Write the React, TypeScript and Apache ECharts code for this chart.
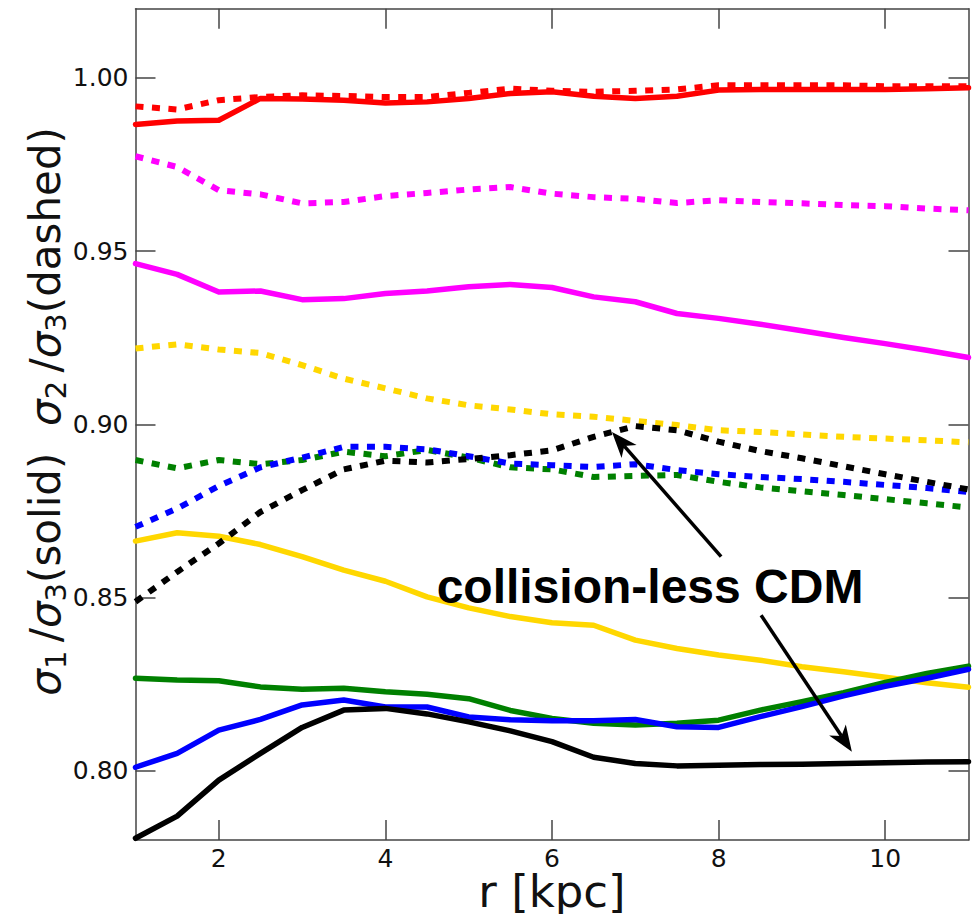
import React, { useEffect, useRef } from 'react';
import * as echarts from 'echarts';

// Radius samples (kpc)
const radii = [1, 1.5, 2, 2.5, 3, 3.5, 4, 4.5, 5, 5.5, 6, 6.5, 7, 7.5, 8, 8.5, 9, 9.5, 10, 10.5, 11];

// Axis ratios, solid = sigma1/sigma3, dashed = sigma2/sigma3
const redSolid = [0.9866, 0.9876, 0.9878, 0.9941, 0.9939, 0.9936, 0.9928, 0.9931, 0.9941, 0.9955, 0.996, 0.9947, 0.9941, 0.9947, 0.9965, 0.9967, 0.9967, 0.9967, 0.9967, 0.9969, 0.9972];
const redDashed = [0.9918, 0.9909, 0.9936, 0.9945, 0.995, 0.9948, 0.9945, 0.9945, 0.9957, 0.9969, 0.9963, 0.996, 0.9963, 0.9967, 0.9979, 0.9979, 0.9979, 0.9979, 0.9976, 0.9976, 0.9976];
const magentaDashed = [0.9774, 0.9743, 0.9676, 0.9664, 0.9638, 0.9642, 0.9659, 0.9668, 0.9678, 0.9685, 0.9666, 0.9656, 0.9651, 0.9639, 0.9647, 0.9642, 0.9638, 0.9633, 0.963, 0.9623, 0.9618];
const magentaSolid = [0.9464, 0.9433, 0.9382, 0.9385, 0.936, 0.9363, 0.9378, 0.9385, 0.9397, 0.9404, 0.9395, 0.9368, 0.9354, 0.932, 0.9306, 0.9289, 0.927, 0.9251, 0.9233, 0.9214, 0.9193];
const yellowDashed = [0.9219, 0.9231, 0.9216, 0.9206, 0.9171, 0.9132, 0.9104, 0.9075, 0.9055, 0.9043, 0.9029, 0.9022, 0.901, 0.8998, 0.8983, 0.8978, 0.8971, 0.8964, 0.8959, 0.8954, 0.8948];
const yellowSolid = [0.8663, 0.8687, 0.8677, 0.8653, 0.8618, 0.8579, 0.8547, 0.8502, 0.847, 0.8445, 0.8427, 0.842, 0.8377, 0.8353, 0.8334, 0.8319, 0.83, 0.8286, 0.827, 0.8254, 0.8241];
const greenDashed = [0.8897, 0.8873, 0.8897, 0.8885, 0.8897, 0.8921, 0.8908, 0.8926, 0.8904, 0.8876, 0.887, 0.8848, 0.8851, 0.8854, 0.8834, 0.8818, 0.8807, 0.8796, 0.8784, 0.8772, 0.876];
const greenSolid = [0.8267, 0.8262, 0.826, 0.8242, 0.8235, 0.8238, 0.8228, 0.8221, 0.8208, 0.8174, 0.8151, 0.8137, 0.8132, 0.8137, 0.8146, 0.8175, 0.8199, 0.8225, 0.8255, 0.8281, 0.8302];
const blueDashed = [0.8704, 0.8757, 0.8822, 0.8876, 0.8904, 0.8935, 0.8935, 0.8928, 0.8908, 0.8887, 0.8882, 0.8877, 0.8885, 0.8868, 0.8856, 0.8848, 0.8842, 0.8834, 0.8825, 0.8816, 0.8805];
const blueSolid = [0.801, 0.805, 0.8117, 0.8148, 0.819, 0.8204, 0.8184, 0.8184, 0.8155, 0.8147, 0.8144, 0.8144, 0.8148, 0.8127, 0.8125, 0.8156, 0.8185, 0.8216, 0.8244, 0.8267, 0.8293];
const blackDashed = [0.8488, 0.8574, 0.8656, 0.8747, 0.881, 0.887, 0.8895, 0.889, 0.89, 0.8911, 0.8925, 0.8964, 0.8995, 0.8983, 0.895, 0.8923, 0.8902, 0.8879, 0.8856, 0.8834, 0.8812];
const blackSolid = [0.7805, 0.7869, 0.7973, 0.805, 0.8125, 0.8175, 0.818, 0.8164, 0.8141, 0.8115, 0.8084, 0.8039, 0.8021, 0.8014, 0.8016, 0.8018, 0.8019, 0.8021, 0.8023, 0.8025, 0.8026];

const xTicks = [2, 4, 6, 8, 10];
const yTicks = [0.8, 0.85, 0.9, 0.95, 1.0];

// Annotation arrows: [tail, tip] in data coordinates
const arrowUp = [[8.03, 0.8618], [6.72, 0.8978]];
const arrowDown = [[8.51, 0.8449], [9.6, 0.8055]];

type Curve = { name: string; color: string; dashed: boolean; values: number[] };

const curves: Curve[] = [
  { name: 'red solid', color: '#ff0000', dashed: false, values: redSolid },
  { name: 'red dashed', color: '#ff0000', dashed: true, values: redDashed },
  { name: 'magenta dashed', color: '#ff00ff', dashed: true, values: magentaDashed },
  { name: 'magenta solid', color: '#ff00ff', dashed: false, values: magentaSolid },
  { name: 'yellow dashed', color: '#ffd700', dashed: true, values: yellowDashed },
  { name: 'yellow solid', color: '#ffd700', dashed: false, values: yellowSolid },
  { name: 'green dashed', color: '#008000', dashed: true, values: greenDashed },
  { name: 'green solid', color: '#008000', dashed: false, values: greenSolid },
  { name: 'blue dashed', color: '#0000ff', dashed: true, values: blueDashed },
  { name: 'blue solid', color: '#0000ff', dashed: false, values: blueSolid },
  { name: 'black dashed', color: '#000000', dashed: true, values: blackDashed },
  { name: 'black solid', color: '#000000', dashed: false, values: blackSolid },
];

const AXIS_COLOR = '#444';
const FONT = '"DejaVu Sans", Verdana, sans-serif';

const labelGraphic = {
  id: 'cdm-label',
  type: 'text',
  z: 100,
  x: 650,
  y: 586,
  silent: true,
  style: {
    text: 'collision-less CDM',
    fill: '#000',
    fontFamily: '"Liberation Sans", Arial, sans-serif',
    fontWeight: 'bold',
    fontSize: 48,
    align: 'center',
    verticalAlign: 'middle',
  },
};

// x-axis title, centred under the plot
const xTitleGraphic = {
  id: 'x-title',
  type: 'text',
  z: 100,
  x: 552,
  y: 891,
  silent: true,
  style: {
    text: 'r [kpc]',
    fill: '#111',
    fontFamily: FONT,
    fontSize: 45,
    lineHeight: 42,
    align: 'center',
    verticalAlign: 'middle',
  },
};

function buildOption(): echarts.EChartsOption {
  const tick = {
    show: true,
    inside: true,
    length: 20,
    lineStyle: { color: AXIS_COLOR, width: 1.5 },
  };
  const axisLine = { show: true, onZero: false, lineStyle: { color: AXIS_COLOR, width: 1.5 } };

  const lineSeries = curves.map((c, i) => ({
    name: c.name,
    type: 'line' as const,
    xAxisIndex: 0,
    yAxisIndex: 0,
    data: radii.map((r, k) => [r, c.values[k]]),
    showSymbol: false,
    symbol: 'none',
    silent: true,
    z: 2 + i * 0.01,
    lineStyle: {
      color: c.color,
      width: c.dashed ? 6 : 5.5,
      type: c.dashed ? [8, 8.5] : 'solid',
      cap: c.dashed ? 'butt' : 'round',
      join: 'round',
    },
  }));

  return {
    animation: false,
    backgroundColor: '#ffffff',
    grid: {
      left: 135.5,
      right: 5.5,
      top: 8.7,
      bottom: 74,
      containLabel: false,
      outerBoundsMode: 'none',
    },
    xAxis: [
      {
        type: 'value',
        min: 1,
        max: 11,
        position: 'bottom',
        axisLine,
        axisTick: { ...tick, customValues: xTicks },
        axisLabel: {
          customValues: xTicks,
          color: '#111',
          fontFamily: FONT,
          fontSize: 25,
          lineHeight: 24,
          margin: 6,
          formatter: (v: number) => String(v),
        },
        splitLine: { show: false },
      },
      {
        type: 'value',
        min: 1,
        max: 11,
        position: 'top',
        axisLine,
        axisTick: { ...tick, customValues: xTicks },
        axisLabel: { show: false },
        splitLine: { show: false },
      },
    ],
    yAxis: [
      {
        type: 'value',
        min: 0.78,
        max: 1.02,
        position: 'left',
        axisLine,
        axisTick: { ...tick, customValues: yTicks },
        axisLabel: {
          customValues: yTicks,
          color: '#111',
          fontFamily: FONT,
          fontSize: 25,
          margin: 7,
          formatter: (v: number) => v.toFixed(2),
        },
        splitLine: { show: false },
        name:
          '{g|σ}{sub|1}{n|\u2009/}{g|σ}{sub|3}{n|(solid)  }{g|σ}{sub|2}{n|\u2009/}{g|σ}{sub|3}{n|(dashed)}',
        nameLocation: 'middle',
        nameRotate: 90,
        nameGap: 65,
        nameMoveOverlap: false,
        nameTextStyle: {
          color: '#111',
          padding: [0, 0, 0, 26],
          rich: {
            g: { fontFamily: FONT, fontStyle: 'italic', fontSize: 42, lineHeight: 50, color: '#111' },
            n: { fontFamily: FONT, fontSize: 42, lineHeight: 50, color: '#111' },
            sub: { fontFamily: FONT, fontSize: 29, verticalAlign: 'bottom', lineHeight: 29, color: '#111' },
          },
        },
      },
      {
        type: 'value',
        min: 0.78,
        max: 1.02,
        position: 'right',
        axisLine,
        axisTick: { ...tick, customValues: yTicks },
        axisLabel: { show: false },
        splitLine: { show: false },
      },
    ],
    series: lineSeries,
    graphic: [labelGraphic, xTitleGraphic],
  } as echarts.EChartsOption;
}

// Arrow with a concave (stealth) head, built from data-space tail and tip
function arrowGraphics(chart: echarts.ECharts, id: string, tail: number[], tip: number[]) {
  const a = chart.convertToPixel({ gridIndex: 0 }, tail) as number[];
  const b = chart.convertToPixel({ gridIndex: 0 }, tip) as number[];
  const dx = b[0] - a[0];
  const dy = b[1] - a[1];
  const len = Math.hypot(dx, dy) || 1;
  const ux = dx / len;
  const uy = dy / len;
  const nx = -uy;
  const ny = ux;
  const headLen = 26;
  const halfW = 10;
  const notch = headLen * 0.72;
  const backX = b[0] - ux * headLen;
  const backY = b[1] - uy * headLen;
  const notchX = b[0] - ux * notch;
  const notchY = b[1] - uy * notch;
  return [
    {
      id: id + '-shaft',
      type: 'line',
      z: 90,
      silent: true,
      shape: { x1: a[0], y1: a[1], x2: notchX, y2: notchY },
      style: { stroke: '#000', lineWidth: 3.5 },
    },
    {
      id: id + '-head',
      type: 'polygon',
      z: 91,
      silent: true,
      shape: {
        points: [
          [b[0], b[1]],
          [backX + nx * halfW, backY + ny * halfW],
          [notchX, notchY],
          [backX - nx * halfW, backY - ny * halfW],
        ],
      },
      style: { fill: '#000' },
    },
  ];
}

export default function App() {
  const ref = useRef<HTMLDivElement>(null);

  useEffect(() => {
    if (!ref.current) return;
    const chart = echarts.init(ref.current, null, { renderer: 'svg' });
    chart.setOption(buildOption());
    chart.setOption({
      graphic: [
        labelGraphic,
        xTitleGraphic,
        ...arrowGraphics(chart, 'arrow-up', arrowUp[0], arrowUp[1]),
        ...arrowGraphics(chart, 'arrow-down', arrowDown[0], arrowDown[1]),
      ],
    } as echarts.EChartsOption);
    return () => chart.dispose();
  }, []);

  return (
    <div
      ref={ref}
      style={{ position: 'fixed', left: 0, top: 0, width: 974, height: 914, background: '#fff' }}
    />
  );
}
